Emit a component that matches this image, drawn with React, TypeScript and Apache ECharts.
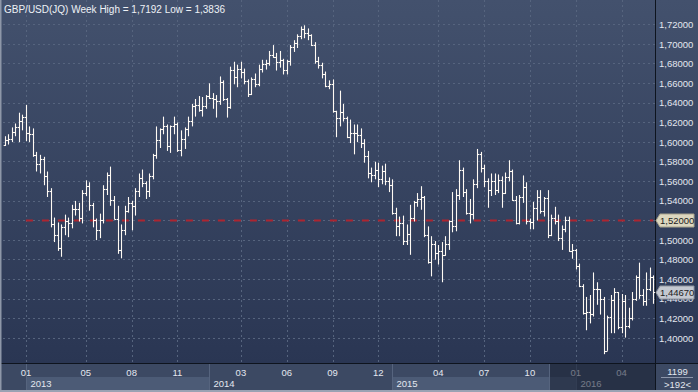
import React, { useEffect, useRef } from "react";
import * as echarts from "echarts";

// ---- data (weekly bars, week-ending Fridays from 2012-11-23) ----
const opens = [
  1.5975, 1.6020, 1.6030, 1.6100, 1.6150, 1.6220, 1.6260, 1.6090, 1.6080, 1.5870,
  1.5780, 1.5830, 1.5650, 1.5500, 1.5160, 1.5050, 1.4920, 1.5130, 1.5190, 1.5170,
  1.5320, 1.5320, 1.5230, 1.5480, 1.5550, 1.5360, 1.5200, 1.5100, 1.5200, 1.5520,
  1.5660, 1.5410, 1.5220, 1.4900, 1.5100, 1.5300, 1.5380, 1.5350, 1.5500, 1.5630,
  1.5580, 1.5500, 1.5650, 1.5870, 1.6020, 1.6130, 1.6160, 1.5960, 1.6160, 1.6180,
  1.5920, 1.6030, 1.6130, 1.6220, 1.6370, 1.6380, 1.6330, 1.6370, 1.6470, 1.6450,
  1.6440, 1.6420, 1.6610, 1.6440, 1.6360, 1.6740, 1.6660, 1.6750, 1.6720, 1.6620,
  1.6490, 1.6640, 1.6590, 1.6750, 1.6800, 1.6810, 1.6890, 1.6870, 1.6820, 1.6840,
  1.6740, 1.6830, 1.6970, 1.7010, 1.7080, 1.7150, 1.7110, 1.7090, 1.6990, 1.6830,
  1.6790, 1.6700, 1.6570, 1.6590, 1.6320, 1.6250, 1.6310, 1.6250, 1.6050, 1.6090,
  1.6090, 1.6070, 1.5990, 1.5860, 1.5680, 1.5660, 1.5720, 1.5620, 1.5710, 1.5600,
  1.5560, 1.5280, 1.5140, 1.5170, 1.4990, 1.5060, 1.5230, 1.5390, 1.5420, 1.5440,
  1.5050, 1.4780, 1.4960, 1.4870, 1.4890, 1.4850, 1.4960, 1.5190, 1.5140, 1.5460,
  1.5720, 1.5490, 1.5280, 1.5270, 1.5570, 1.5880, 1.5740, 1.5600, 1.5510, 1.5600,
  1.5510, 1.5610, 1.5480, 1.5640, 1.5700, 1.5410, 1.5170, 1.5440, 1.5540, 1.5190,
  1.5180, 1.5330, 1.5440, 1.5300, 1.5430, 1.5050, 1.5230, 1.5190, 1.5020, 1.5110,
  1.5210, 1.4890, 1.4900, 1.4740, 1.4530, 1.4260, 1.4270, 1.4250, 1.4500, 1.4500,
  1.4400, 1.3870, 1.4220, 1.4390, 1.4470, 1.4110, 1.4380, 1.4120, 1.4210, 1.4400,
  1.4620, 1.4440, 1.4380, 1.4500, 1.4620,
];
const highs = [
  1.6060, 1.6080, 1.6150, 1.6190, 1.6300, 1.6280, 1.6380, 1.6160, 1.6140, 1.5900,
  1.5870, 1.5850, 1.5700, 1.5530, 1.5230, 1.5180, 1.5160, 1.5260, 1.5230, 1.5360,
  1.5400, 1.5380, 1.5510, 1.5610, 1.5590, 1.5380, 1.5220, 1.5270, 1.5560, 1.5690,
  1.5750, 1.5450, 1.5350, 1.5160, 1.5350, 1.5440, 1.5400, 1.5530, 1.5680, 1.5720,
  1.5600, 1.5680, 1.5880, 1.6160, 1.6140, 1.6260, 1.6180, 1.6170, 1.6260, 1.6200,
  1.6120, 1.6150, 1.6260, 1.6390, 1.6440, 1.6470, 1.6460, 1.6480, 1.6600, 1.6500,
  1.6480, 1.6670, 1.6630, 1.6450, 1.6770, 1.6820, 1.6790, 1.6820, 1.6750, 1.6640,
  1.6660, 1.6700, 1.6790, 1.6840, 1.6840, 1.6930, 1.6990, 1.6910, 1.6930, 1.6850,
  1.6840, 1.6990, 1.7040, 1.7100, 1.7180, 1.7192, 1.7160, 1.7100, 1.7020, 1.6870,
  1.6810, 1.6720, 1.6630, 1.6640, 1.6320, 1.6525, 1.6390, 1.6260, 1.6230, 1.6180,
  1.6180, 1.6140, 1.6030, 1.5910, 1.5740, 1.5800, 1.5790, 1.5760, 1.5780, 1.5640,
  1.5620, 1.5330, 1.5240, 1.5250, 1.5160, 1.5360, 1.5400, 1.5480, 1.5550, 1.5450,
  1.5140, 1.5040, 1.4990, 1.4950, 1.4980, 1.5040, 1.5200, 1.5490, 1.5520, 1.5815,
  1.5740, 1.5520, 1.5420, 1.5620, 1.5930, 1.5900, 1.5770, 1.5630, 1.5680, 1.5680,
  1.5670, 1.5650, 1.5690, 1.5815, 1.5720, 1.5450, 1.5460, 1.5660, 1.5590, 1.5220,
  1.5390, 1.5510, 1.5510, 1.5440, 1.5510, 1.5260, 1.5340, 1.5260, 1.5150, 1.5240,
  1.5240, 1.4960, 1.4910, 1.4760, 1.4550, 1.4420, 1.4440, 1.4670, 1.4570, 1.4500,
  1.4420, 1.4230, 1.4440, 1.4510, 1.4470, 1.4450, 1.4440, 1.4310, 1.4470, 1.4640,
  1.4770, 1.4500, 1.4670, 1.4720, 1.4640,
];
const lows = [
  1.5960, 1.5975, 1.6000, 1.6060, 1.6000, 1.6120, 1.6010, 1.6000, 1.5850, 1.5700,
  1.5680, 1.5560, 1.5440, 1.5130, 1.4980, 1.4890, 1.4830, 1.5050, 1.5030, 1.5120,
  1.5250, 1.5190, 1.5170, 1.5450, 1.5300, 1.5130, 1.5000, 1.5020, 1.5170, 1.5460,
  1.5350, 1.5210, 1.4860, 1.4814, 1.5050, 1.5280, 1.5100, 1.5250, 1.5440, 1.5540,
  1.5420, 1.5440, 1.5620, 1.5830, 1.5940, 1.6080, 1.5910, 1.5890, 1.6080, 1.5900,
  1.5855, 1.5930, 1.6060, 1.6160, 1.6260, 1.6310, 1.6260, 1.6340, 1.6440, 1.6340,
  1.6250, 1.6380, 1.6420, 1.6250, 1.6340, 1.6590, 1.6560, 1.6650, 1.6590, 1.6460,
  1.6480, 1.6560, 1.6570, 1.6710, 1.6740, 1.6780, 1.6860, 1.6730, 1.6760, 1.6690,
  1.6690, 1.6780, 1.6920, 1.6960, 1.7050, 1.7060, 1.7040, 1.6980, 1.6800, 1.6750,
  1.6650, 1.6560, 1.6540, 1.6300, 1.6050, 1.6160, 1.6210, 1.6040, 1.5990, 1.5875,
  1.6000, 1.5940, 1.5790, 1.5630, 1.5590, 1.5620, 1.5540, 1.5570, 1.5560, 1.5490,
  1.5260, 1.5040, 1.5040, 1.4950, 1.4950, 1.4850, 1.5190, 1.5340, 1.5310, 1.5030,
  1.4760, 1.4630, 1.4800, 1.4750, 1.4570, 1.4840, 1.4900, 1.5080, 1.5090, 1.5410,
  1.5440, 1.5260, 1.5170, 1.5210, 1.5530, 1.5690, 1.5540, 1.5330, 1.5450, 1.5460,
  1.5480, 1.5330, 1.5470, 1.5600, 1.5400, 1.5160, 1.5160, 1.5380, 1.5160, 1.5110,
  1.5110, 1.5200, 1.5270, 1.5240, 1.5020, 1.5040, 1.5160, 1.4990, 1.4900, 1.5080,
  1.4880, 1.4810, 1.4700, 1.4520, 1.4240, 1.4080, 1.4150, 1.4220, 1.4340, 1.4240,
  1.3836, 1.3870, 1.4050, 1.4050, 1.4090, 1.4050, 1.4005, 1.4100, 1.4180, 1.4380,
  1.4400, 1.4330, 1.4330, 1.4480, 1.4350,
];
const closes = [
  1.6020, 1.6030, 1.6100, 1.6150, 1.6220, 1.6260, 1.6090, 1.6080, 1.5870, 1.5780,
  1.5830, 1.5650, 1.5500, 1.5160, 1.5050, 1.4920, 1.5130, 1.5190, 1.5170, 1.5320,
  1.5320, 1.5230, 1.5480, 1.5550, 1.5360, 1.5200, 1.5100, 1.5200, 1.5520, 1.5660,
  1.5410, 1.5220, 1.4900, 1.5100, 1.5300, 1.5380, 1.5350, 1.5500, 1.5630, 1.5580,
  1.5500, 1.5650, 1.5870, 1.6020, 1.6130, 1.6160, 1.5960, 1.6160, 1.6180, 1.5920,
  1.6030, 1.6130, 1.6220, 1.6370, 1.6380, 1.6330, 1.6370, 1.6470, 1.6450, 1.6440,
  1.6420, 1.6610, 1.6440, 1.6360, 1.6740, 1.6660, 1.6750, 1.6720, 1.6620, 1.6490,
  1.6640, 1.6590, 1.6750, 1.6800, 1.6810, 1.6890, 1.6870, 1.6820, 1.6840, 1.6740,
  1.6830, 1.6970, 1.7010, 1.7080, 1.7150, 1.7110, 1.7090, 1.6990, 1.6830, 1.6790,
  1.6700, 1.6570, 1.6590, 1.6320, 1.6250, 1.6310, 1.6250, 1.6050, 1.6090, 1.6090,
  1.6070, 1.5990, 1.5860, 1.5680, 1.5660, 1.5720, 1.5620, 1.5710, 1.5600, 1.5560,
  1.5280, 1.5140, 1.5170, 1.4990, 1.5060, 1.5230, 1.5390, 1.5420, 1.5440, 1.5050,
  1.4780, 1.4960, 1.4870, 1.4890, 1.4850, 1.4960, 1.5190, 1.5140, 1.5460, 1.5720,
  1.5490, 1.5280, 1.5270, 1.5570, 1.5880, 1.5740, 1.5600, 1.5510, 1.5600, 1.5510,
  1.5610, 1.5480, 1.5640, 1.5700, 1.5410, 1.5170, 1.5440, 1.5540, 1.5190, 1.5180,
  1.5330, 1.5440, 1.5300, 1.5430, 1.5050, 1.5230, 1.5190, 1.5020, 1.5110, 1.5210,
  1.4890, 1.4900, 1.4740, 1.4530, 1.4260, 1.4270, 1.4250, 1.4500, 1.4500, 1.4400,
  1.3870, 1.4220, 1.4390, 1.4470, 1.4110, 1.4380, 1.4120, 1.4210, 1.4400, 1.4620,
  1.4440, 1.4380, 1.4500, 1.4620, 1.4467,
];
const monthTicks = [
  "2013-01", "2013-05", "2013-08", "2013-11", "2014-03", "2014-06", "2014-09",
  "2014-12", "2015-04", "2015-07", "2015-10", "2016-01", "2016-04",
];
const years = ["2013", "2014", "2015", "2016"];
const yMinTick = 1.4;
const yMaxTick = 1.72;
const yStep = 0.02;
const refLevel = 1.52;
const refFrom = "2013-01";
const cornerTexts = ["1199", ">192<"];
const titlePrefix = "GBP/USD(JQ) Week";

// ---- layout ----
const W = 698;
const H = 392;
const PLOT_L = 3;
const PLOT_R = 655;
const PLOT_B = 363;
const TICK_TOP_Y = 24.5;
const TICK_BOT_Y = 338.1;

const fmt = (v: number, d: number) => v.toFixed(d).replace(".", ",");

export default function App() {
  const ref = useRef<HTMLDivElement>(null);
  useEffect(() => {
    const el = ref.current!;
    const chart = echarts.init(el, undefined, { renderer: "svg" });

    const t0 = Date.UTC(2012, 10, 23);
    const dates = opens.map((_, i) =>
      new Date(t0 + i * 7 * 86400000).toISOString().slice(0, 10)
    );
    const firstIdxOf = (ym: string) => dates.findIndex((d) => d.slice(0, 7) === ym);
    const labelIdx = monthTicks.map(firstIdxOf);
    const labelSet = new Set(labelIdx);
    const refIdx = firstIdxOf(refFrom);
    const yearIdx = years.map((y) => dates.findIndex((d) => d.slice(0, 4) === y));

    const perPx = (yMaxTick - yMinTick) / (TICK_BOT_Y - TICK_TOP_Y);
    const aMax = yMaxTick + TICK_TOP_Y * perPx;
    const aMin = yMinTick - (PLOT_B - TICK_BOT_Y) * perPx;

    const hi = Math.max(...highs);
    const lo = Math.min(...lows);
    const title = `${titlePrefix} High = ${fmt(hi, 4)} Low = ${fmt(lo, 4)}`;

    const ohlc = dates.map((_, i) => [i, opens[i], closes[i], lows[i], highs[i]]);
    const refLine = dates.map((_, i) => (i >= refIdx ? refLevel : null));

    const gridColor = "#56647e";
    const labelColor = "#e3e7ef";
    const font = "'Liberation Sans', Arial, sans-serif";

    chart.setOption({
      animation: false,
      backgroundColor: {
        type: "linear",
        x: 0, y: 0, x2: 0, y2: 1,
        colorStops: [
          { offset: 0, color: "#43516d" },
          { offset: PLOT_B / H - 0.001, color: "#2a3653" },
          { offset: PLOT_B / H, color: "#3c4963" },
          { offset: 1, color: "#3c4963" },
        ],
      },
      textStyle: { fontFamily: font },
      grid: [
        { left: PLOT_L, right: W - PLOT_R, top: 0, bottom: H - PLOT_B },
        { left: PLOT_L, right: W - PLOT_R, top: TICK_TOP_Y, bottom: H - TICK_BOT_Y },
      ],
      xAxis: [
        {
          gridIndex: 0,
          type: "category",
          data: dates,
          boundaryGap: true,
          axisLine: { show: false },
          axisTick: { show: false },
          splitLine: { show: false },
          axisLabel: {
            interval: (i: number) => labelSet.has(i),
            formatter: (v: string) => v.slice(5, 7),
            color: labelColor,
            fontSize: 9.5,
            fontFamily: font,
            margin: 4,
          },
        },
        { gridIndex: 1, type: "category", data: dates, show: false },
      ],
      yAxis: [
        { gridIndex: 0, type: "value", min: aMin, max: aMax, show: false, splitLine: { show: false } },
        {
          gridIndex: 1,
          type: "value",
          position: "right",
          min: yMinTick,
          max: yMaxTick,
          interval: yStep,
          axisLine: { show: false },
          axisTick: { show: false },
          axisLabel: {
            formatter: (v: number) => fmt(v, 5),
            color: labelColor,
            fontSize: 9.5,
            fontFamily: font,
            margin: 4,
          },
          splitLine: { show: true, lineStyle: { color: gridColor, type: [2, 3], width: 1 } },
        },
      ],
      series: [
        {
          type: "line",
          xAxisIndex: 0,
          yAxisIndex: 0,
          data: refLine,
          symbol: "none",
          z: 1,
          lineStyle: { color: "#ad2530", width: 2, type: [7, 9] },
        },
        {
          type: "custom",
          xAxisIndex: 0,
          yAxisIndex: 0,
          data: ohlc,
          encode: { x: 0, y: [1, 2, 3, 4] },
          clip: false,
          z: 3,
          renderItem: (_p: any, api: any) => {
            const idx = api.value(0);
            const pH = api.coord([idx, api.value(4)]);
            const pL = api.coord([idx, api.value(3)]);
            const yo = Math.round(api.coord([idx, api.value(1)])[1]) + 0.5;
            const yc = Math.round(api.coord([idx, api.value(2)])[1]) + 0.5;
            const x = Math.round(pH[0]) + 0.5;
            const st = { stroke: "#fffaf3", lineWidth: 1.1 };
            return {
              type: "group",
              children: [
                { type: "line", shape: { x1: x, y1: pH[1], x2: x, y2: pL[1] }, style: st },
                { type: "line", shape: { x1: x - 1.8, y1: yo, x2: x, y2: yo }, style: st },
                { type: "line", shape: { x1: x, y1: yc, x2: x + 1.8, y2: yc }, style: st },
              ],
            };
          },
        },
      ],
    });

    const px = (i: number) => chart.convertToPixel({ xAxisIndex: 0 }, i) as number;
    const py = (v: number) => chart.convertToPixel({ yAxisIndex: 0 }, v) as number;

    const g: any[] = [];
    labelIdx.forEach((i) => {
      const x = Math.round(px(i)) + 0.5;
      g.push({
        type: "line", z: 0, silent: true,
        shape: { x1: x, y1: 0, x2: x, y2: PLOT_B },
        style: { stroke: gridColor, lineWidth: 1, lineDash: [2, 3] },
      });
    });
    yearIdx.forEach((i, k) => {
      const x0 = Math.round(px(i)) + 0.5;
      const x1 = k + 1 < yearIdx.length ? Math.round(px(yearIdx[k + 1])) + 0.5 : PLOT_R;
      if (k % 2 === 0) {
        g.push({
          type: "rect", z: 1, silent: true,
          shape: { x: x0, y: 377, width: x1 - x0, height: 13 },
          style: { fill: "#4c5b76" },
        });
      }
      g.push({
        type: "line", z: 1, silent: true,
        shape: { x1: x0, y1: PLOT_B, x2: x0, y2: 390 },
        style: { stroke: "#56647e", lineWidth: 1 },
      });
      g.push({
        type: "text", z: 2, silent: true,
        x: x0 + 4, y: 383.5,
        style: { text: years[k], fill: labelColor, font: `9.5px ${font}`, verticalAlign: "middle" },
      });
    });
    g.push({
      type: "rect", z: 10, silent: true,
      shape: { x: 549, y: PLOT_B + 1, width: PLOT_R - 549, height: 26 },
      style: { fill: "rgba(22,30,48,0.55)" },
    });
    g.push({
      type: "line", z: 10, silent: true,
      shape: { x1: 549.5, y1: PLOT_B, x2: 549.5, y2: 390 },
      style: { stroke: "#56647e", lineWidth: 1 },
    });
    g.push({
      type: "line", z: 11, silent: true,
      shape: { x1: 0, y1: PLOT_B + 0.5, x2: W, y2: PLOT_B + 0.5 },
      style: { stroke: "#0e141e", lineWidth: 1 },
    });
    g.push({
      type: "line", z: 11, silent: true,
      shape: { x1: PLOT_R + 0.5, y1: 0, x2: PLOT_R + 0.5, y2: H },
      style: { stroke: "#0e141e", lineWidth: 1 },
    });
    g.push({
      type: "line", z: 11, silent: true,
      shape: { x1: 0.75, y1: 0, x2: 0.75, y2: H },
      style: { stroke: "#8e97a8", lineWidth: 1.5 },
    });
    g.push({
      type: "line", z: 11, silent: true,
      shape: { x1: 0, y1: H - 1, x2: W, y2: H - 1 },
      style: { stroke: "#9aa2b3", lineWidth: 2 },
    });
    g.push({
      type: "text", z: 12, silent: true, x: (PLOT_R + W) / 2 + 1, y: 371,
      style: { text: cornerTexts[0], fill: labelColor, font: `9.5px ${font}`, align: "center", verticalAlign: "middle" },
    });
    g.push({
      type: "line", z: 12, silent: true,
      shape: { x1: 661, y1: 377.5, x2: 693, y2: 377.5 },
      style: { stroke: "#8c96aa", lineWidth: 1 },
    });
    g.push({
      type: "text", z: 12, silent: true, x: (PLOT_R + W) / 2 + 1, y: 384,
      style: { text: cornerTexts[1], fill: labelColor, font: `9.5px ${font}`, align: "center", verticalAlign: "middle" },
    });
    g.push({
      type: "text", z: 12, silent: true, x: 4, y: 9,
      style: { text: title, fill: "#eef1f6", font: `10px ${font}`, verticalAlign: "middle" },
    });
    const tag = (v: number, fill: string, stroke: string) => {
      const y = Math.round(py(v)) + 0.5;
      g.push({
        type: "polygon", z: 20, silent: true,
        shape: { points: [[PLOT_R + 1, y], [PLOT_R + 5, y - 6.5], [W - 4, y - 6.5], [W - 4, y + 6.5], [PLOT_R + 5, y + 6.5]] },
        style: { fill, stroke, lineWidth: 1 },
      });
      g.push({
        type: "text", z: 21, silent: true, x: PLOT_R + 5, y,
        style: { text: fmt(v, 5), fill: "#1c1c1c", font: `9.5px ${font}`, verticalAlign: "middle" },
      });
    };
    tag(refLevel, "#dcd7bf", "#a9a48d");
    tag(closes[closes.length - 1], "#c4c8d0", "#8f949e");

    chart.setOption({ graphic: g });

    return () => chart.dispose();
  }, []);
  return (
    <div
      ref={ref}
      style={{ position: "fixed", left: 0, top: 0, width: W, height: H }}
    />
  );
}
